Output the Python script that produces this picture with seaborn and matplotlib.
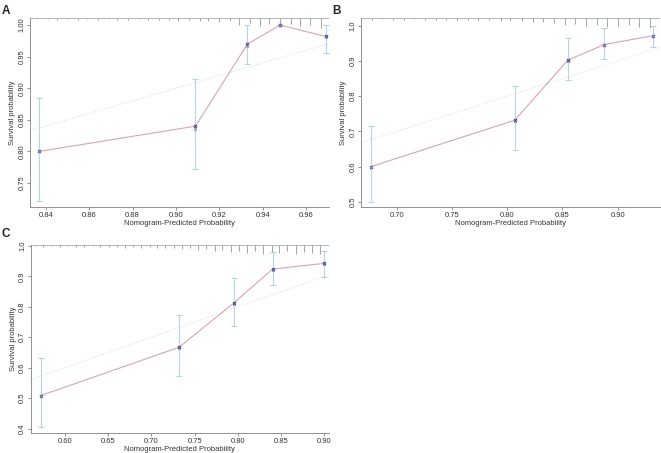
import numpy as np
import pandas as pd
import matplotlib
matplotlib.use("Agg")
import matplotlib.pyplot as plt
import seaborn as sns

# --- panel A data ---
a_pred = [0.837, 0.909, 0.933, 0.948, 0.969]
a_obs = [0.800, 0.840, 0.970, 1.000, 0.982]
a_corr = [0.800, 0.836, 0.967, 1.000, 0.981]
a_lo = [0.722, 0.772, 0.938, 1.000, 0.956]
a_hi = [0.885, 0.915, 1.000, 1.000, 1.000]
a_rug_x = [0.836, 0.841, 0.845, 0.850, 0.855, 0.859, 0.864, 0.869, 0.873, 0.878,
           0.883, 0.887, 0.892, 0.897, 0.901, 0.906, 0.911, 0.915, 0.920, 0.925,
           0.929, 0.934, 0.939, 0.943, 0.948, 0.953, 0.957, 0.962, 0.967]
a_rug_h = [1, 1, 2, 1, 2, 1, 2, 1, 2, 2, 1, 2, 2, 2, 3, 2, 3, 3, 4, 3,
           7, 5, 8, 6, 9, 6, 8, 7, 10]

# --- panel B data ---
b_pred = [0.677, 0.807, 0.855, 0.888, 0.932]
b_obs = [0.600, 0.732, 0.903, 0.947, 0.972]
b_corr = [0.598, 0.730, 0.901, 0.946, 0.971]
b_lo = [0.500, 0.648, 0.845, 0.905, 0.940]
b_hi = [0.715, 0.830, 0.965, 0.993, 1.000]
b_rug_x = [0.668, 0.678, 0.687, 0.697, 0.707, 0.716, 0.726, 0.736, 0.745, 0.755,
           0.765, 0.774, 0.784, 0.794, 0.803, 0.813, 0.823, 0.832, 0.842, 0.852,
           0.861, 0.871, 0.881, 0.890, 0.900, 0.910, 0.919, 0.929]
b_rug_h = [1, 2, 1, 2, 2, 1, 2, 2, 2, 3, 2, 3, 2, 3, 3, 3, 4, 4, 5, 7,
           6, 8, 7, 9, 8, 7, 9, 10]

# --- panel C data ---
c_pred = [0.572, 0.732, 0.795, 0.840, 0.900]
c_obs = [0.508, 0.667, 0.812, 0.924, 0.943]
c_corr = [0.506, 0.664, 0.810, 0.922, 0.941]
c_lo = [0.405, 0.572, 0.737, 0.872, 0.898]
c_hi = [0.632, 0.772, 0.895, 0.980, 0.985]
c_rug_x = [0.566, 0.575, 0.585, 0.594, 0.604, 0.613, 0.622, 0.632, 0.641, 0.651,
           0.660, 0.669, 0.679, 0.688, 0.698, 0.707, 0.716, 0.726, 0.735, 0.745,
           0.754, 0.763, 0.773, 0.782, 0.792, 0.801, 0.810, 0.820, 0.829, 0.839,
           0.848, 0.857, 0.867, 0.876, 0.886, 0.895]
c_rug_h = [1, 2, 1, 2, 1, 2, 2, 1, 2, 2, 2, 3, 2, 3, 2, 3, 3, 3, 4, 3,
           5, 4, 6, 5, 7, 6, 8, 6, 9, 7, 8, 6, 9, 7, 8, 9]

sns.set_style("ticks")
plt.rcParams["font.family"] = ["Liberation Sans", "DejaVu Sans"]

LINE_COL = "#dba3ad"
ERR_COL = "#b4d3e3"
PT_COL = "#3a3a6e"
CORR_COL = "#6a78d0"
IDEAL_COL = "#dcdcdc"
AX_COL = "#808080"
TXT_COL = "#333333"
FS = 5.5


def draw_panel(ax, pred, obs, corr, lo, hi, rug_x, rug_h, xlim, ylim, xticks, yticks, xlabels, ylabels):
    # ideal line
    ax.plot(xlim, xlim, color=IDEAL_COL, lw=0.8, ls=":", zorder=1)
    df = pd.DataFrame({"pred": pred, "obs": obs})
    sns.lineplot(data=df, x="pred", y="obs", ax=ax, color=LINE_COL, lw=0.8,
                 sort=True, zorder=3)
    obs_a = np.array(obs)
    ax.errorbar(pred, obs, yerr=[obs_a - np.array(lo), np.array(hi) - obs_a],
                fmt="none", ecolor=ERR_COL, elinewidth=0.8, capsize=2.2,
                capthick=0.8, zorder=2)
    sns.scatterplot(x=pred, y=obs, ax=ax, marker="x", color=PT_COL, s=5,
                    linewidth=0.7, zorder=4)
    sns.scatterplot(x=pred, y=corr, ax=ax, marker="x", color=CORR_COL, s=4,
                    linewidth=0.5, zorder=4)
    # risk distribution spikes hanging from the top
    h = np.array(rug_h) / max(rug_h) * 0.05
    ax.vlines(rug_x, 1 - h, 1, transform=ax.get_xaxis_transform(),
              color="#8a8a8a", lw=0.55, zorder=2)
    ax.axhline(ylim[1], color="#aaaaaa", lw=0.6)
    ax.set_xlim(xlim)
    ax.set_ylim(ylim)
    ax.set_xticks(xticks)
    ax.set_yticks(yticks)
    ax.set_xticklabels(xlabels, fontsize=FS, color=TXT_COL)
    ax.set_yticklabels(ylabels, fontsize=FS, color=TXT_COL, rotation=90, va="center")
    ax.set_xlabel("Nomogram-Predicted Probability", fontsize=FS, color=TXT_COL, labelpad=1)
    ax.set_ylabel("Survival probability", fontsize=FS, color=TXT_COL, labelpad=1.5)
    ax.tick_params(axis="x", length=2, width=0.6, color=AX_COL, pad=1.5)
    ax.tick_params(axis="y", length=2, width=0.6, color=AX_COL, pad=1.2)
    sns.despine(ax=ax)
    for s in ["left", "bottom"]:
        ax.spines[s].set_color(AX_COL)
        ax.spines[s].set_linewidth(0.6)


fig = plt.figure(figsize=(6.61, 4.53), dpi=100)
ax_a = fig.add_axes([0.0454, 0.543, 0.452, 0.417])
ax_b = fig.add_axes([0.546, 0.543, 0.452, 0.417])
ax_c = fig.add_axes([0.0464, 0.044, 0.451, 0.415])

a_xt = [0.84, 0.86, 0.88, 0.90, 0.92, 0.94, 0.96]
a_yt = [0.75, 0.80, 0.85, 0.90, 0.95, 1.00]
draw_panel(ax_a, a_pred, a_obs, a_corr, a_lo, a_hi, a_rug_x, a_rug_h,
           (0.8327, 0.9705), (0.712, 1.011), a_xt, a_yt,
           [f"{t:.2f}" for t in a_xt], [f"{t:.2f}" for t in a_yt])

b_xt = [0.70, 0.75, 0.80, 0.85, 0.90]
b_yt = [0.5, 0.6, 0.7, 0.8, 0.9, 1.0]
draw_panel(ax_b, b_pred, b_obs, b_corr, b_lo, b_hi, b_rug_x, b_rug_h,
           (0.6677, 0.938), (0.485, 1.022), b_xt, b_yt,
           [f"{t:.2f}" for t in b_xt], [f"{t:.1f}" for t in b_yt])

c_xt = [0.60, 0.65, 0.70, 0.75, 0.80, 0.85, 0.90]
c_yt = [0.4, 0.5, 0.6, 0.7, 0.8, 0.9, 1.0]
draw_panel(ax_c, c_pred, c_obs, c_corr, c_lo, c_hi, c_rug_x, c_rug_h,
           (0.5605, 0.905), (0.385, 1.003), c_xt, c_yt,
           [f"{t:.2f}" for t in c_xt], [f"{t:.1f}" for t in c_yt])

for lab, (x, y) in zip(["A", "B", "C"], [(0.003, 0.99), (0.503, 0.99), (0.003, 0.497)]):
    fig.text(x, y, lab, fontsize=8.5, fontweight="bold", va="top", ha="left")

fig.savefig("out.png", dpi=100, facecolor="white")
